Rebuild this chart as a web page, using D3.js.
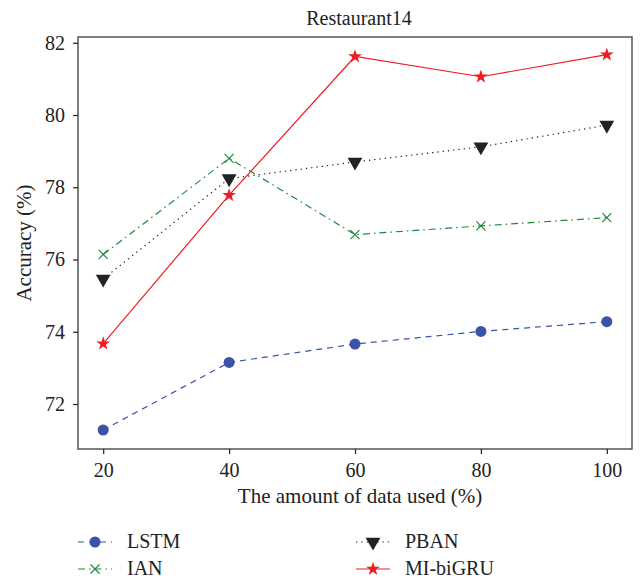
<!doctype html>
<html lang="en">
<head>
    <meta charset="UTF-8">
    <title>Restaurant14</title>
    <style>
        body { margin: 0; background: #fff; }
        svg { display: block; font-family: "Liberation Serif", "DejaVu Serif", serif; }
        .axis text { font-size: 20px; fill: #222; font-family: "Liberation Serif", serif; }
        .axis path { display: none; }
        .axis line { stroke: #222; stroke-width: 1.2; }
    </style>
</head>
<body>
<svg class="chart"></svg>
<script src="https://d3js.org/d3.v7.min.js"></script>
<script>
    // data
    var dataUsed = [20, 40, 60, 80, 100];
    var lstm = [71.28, 73.15, 73.66, 74.01, 74.28];
    var ian = [76.14, 78.80, 76.69, 76.93, 77.16];
    var pban = [75.46, 78.24, 78.70, 79.12, 79.72];
    var mibigru = [73.67, 77.78, 81.62, 81.06, 81.67];
    var xTicks = [20, 40, 60, 80, 100];
    var yTicks = [72, 74, 76, 78, 80, 82];

    var series = [
        {name: "LSTM", values: lstm, color: "#3953a8", dash: "6,5", marker: "circle"},
        {name: "PBAN", values: pban, color: "#222222", dash: "1.3,4", marker: "tri"},
        {name: "IAN", values: ian, color: "#1f8a3c", dash: "7,4,1.5,4", marker: "x"},
        {name: "MI-biGRU", values: mibigru, color: "#f01c24", dash: null, marker: "star"}
    ];

    var totalWidth = 641, totalHeight = 580;
    var plot = {left: 78, right: 632, top: 37, bottom: 449};

    var svg = d3.select(".chart").attr("width", totalWidth).attr("height", totalHeight);

    var x = d3.scaleLinear().domain([16, 104]).range([plot.left, plot.right]);
    var y = d3.scaleLinear().domain([70.754, 82.16]).range([plot.bottom, plot.top]);

    // frame
    svg.append("rect")
        .attr("x", plot.left).attr("y", plot.top)
        .attr("width", plot.right - plot.left).attr("height", plot.bottom - plot.top)
        .attr("fill", "none").attr("stroke", "#555").attr("stroke-width", 1.5);

    // axes
    svg.append("g").attr("class", "x axis")
        .attr("transform", "translate(0," + plot.bottom + ")")
        .call(d3.axisBottom(x).tickValues(xTicks).tickSize(5).tickPadding(9));

    svg.append("g").attr("class", "y axis")
        .attr("transform", "translate(" + plot.left + ",0)")
        .call(d3.axisLeft(y).tickValues(yTicks).tickSize(5).tickPadding(8));

    // titles
    svg.append("text")
        .attr("x", (plot.left + plot.right) / 2 + 4).attr("y", 25)
        .attr("text-anchor", "middle")
        .attr("font-size", 20).attr("fill", "#222")
        .text("Restaurant14");

    svg.append("text")
        .attr("x", (plot.left + plot.right) / 2 + 5).attr("y", 503)
        .attr("text-anchor", "middle")
        .attr("font-size", 21).attr("fill", "#222")
        .text("The amount of data used (%)");

    svg.append("text")
        .attr("transform", "translate(31," + ((plot.top + plot.bottom) / 2) + ") rotate(-90)")
        .attr("text-anchor", "middle")
        .attr("font-size", 21).attr("fill", "#222")
        .text("Accuracy (%)");

    // marker drawing
    var star = d3.symbol().type(d3.symbolStar).size(60);
    var tri = d3.symbol().type(d3.symbolTriangle).size(95);

    function drawMarker(g, s, cx, cy) {
        if (s.marker === "circle") {
            g.append("circle").attr("cx", cx).attr("cy", cy).attr("r", 5.5).attr("fill", s.color);
        } else if (s.marker === "tri") {
            g.append("path").attr("d", tri)
                .attr("transform", "translate(" + cx + "," + cy + ") rotate(180)")
                .attr("fill", s.color);
        } else if (s.marker === "x") {
            var r = 4.5;
            g.append("path")
                .attr("d", "M" + (cx - r) + "," + (cy - r) + "L" + (cx + r) + "," + (cy + r) +
                    "M" + (cx - r) + "," + (cy + r) + "L" + (cx + r) + "," + (cy - r))
                .attr("stroke", s.color).attr("stroke-width", 1.2).attr("fill", "none");
        } else if (s.marker === "star") {
            g.append("path").attr("d", star)
                .attr("transform", "translate(" + cx + "," + cy + ")")
                .attr("fill", s.color);
        }
    }

    var line = d3.line()
        .x(function(d, i) { return x(dataUsed[i]); })
        .y(function(d) { return y(d); });

    var order = ["LSTM", "IAN", "PBAN", "MI-biGRU"];
    order.forEach(function(name) {
        var s = series.find(function(d) { return d.name === name; });
        var g = svg.append("g");
        g.append("path")
            .attr("d", line(s.values))
            .attr("fill", "none")
            .attr("stroke", s.color)
            .attr("stroke-width", 1.2)
            .attr("stroke-dasharray", s.dash);
        s.values.forEach(function(v, i) {
            drawMarker(g, s, x(dataUsed[i]), y(v));
        });
    });

    // legend (2 columns)
    var legendPos = {
        "LSTM": [78, 542], "IAN": [78, 569],
        "PBAN": [356, 542], "MI-biGRU": [356, 569]
    };
    series.forEach(function(s) {
        var p = legendPos[s.name];
        var g = svg.append("g");
        g.append("line")
            .attr("x1", p[0]).attr("x2", p[0] + 34)
            .attr("y1", p[1]).attr("y2", p[1])
            .attr("stroke", s.color).attr("stroke-width", 1.2)
            .attr("stroke-dasharray", s.dash);
        drawMarker(g, s, p[0] + 17, p[1]);
        g.append("text")
            .attr("x", p[0] + 49).attr("y", p[1] + 6)
            .attr("font-size", 20).attr("fill", "#222")
            .text(s.name);
    });
</script>
</body>
</html>
